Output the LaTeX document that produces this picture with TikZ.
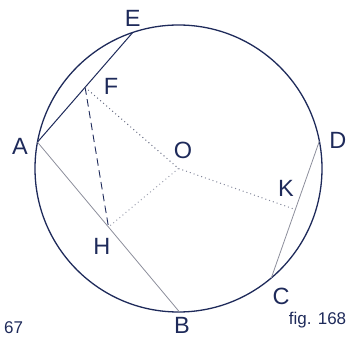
\documentclass[tikz,border=0pt]{standalone}
\usepackage{fontspec}
\setmainfont{Liberation Sans}
\usetikzlibrary{calc}
\definecolor{ink}{RGB}{30,42,90}
\definecolor{chordgray}{RGB}{140,142,155}
\definecolor{dotgray}{RGB}{100,105,128}

\begin{document}
\begin{tikzpicture}[x=1pt, y=1pt,
  pt label/.style={text=ink, inner sep=0pt, font=\fontsize{23.5}{25}\selectfont},
  fig label/.style={text=ink, inner sep=0pt, font=\fontsize{17}{19}\selectfont},
  thin chord/.style={chordgray, line width=0.8pt},
  dotted seg/.style={dotgray, line width=1pt, dash pattern=on 1pt off 3pt}]
  \useasboundingbox (0,0) rectangle (356,337);

  % circle and points on it
  \coordinate (O) at (178.5,168.5);
  \draw[ink, line width=1.3pt] (O) circle[radius=143.5];
  \coordinate (A) at ($(O)+(169.4:143.5)$);
  \coordinate (E) at ($(O)+(108.6:143.5)$);
  \coordinate (B) at ($(O)+(-89.6:143.5)$);
  \coordinate (C) at ($(O)+(-49.7:143.5)$);
  \coordinate (D) at ($(O)+(11:143.5)$);

  % midpoints of the chords
  \coordinate (F) at ($(A)!0.5!(E)$);
  \coordinate (H) at ($(A)!0.5!(B)$);
  \coordinate (K) at ($(C)!0.5!(D)$);

  % chords
  \draw[ink, line width=1pt] (A) -- (E);
  \draw[thin chord] (A) -- (B);
  \draw[thin chord] (C) -- (D);

  \draw[ink, line width=0.9pt, dash pattern=on 7.5pt off 4.5pt] (F) -- (H);
  \draw[dotted seg] (F) -- (O);
  \draw[dotted seg, dotgray!60] (O) -- (H);
  \draw[dotted seg, dotgray!80] (O) -- (K);

  % labels
  \node[pt label] (labE) at ($(E)+(0,14.5)$) {E};
  \node[pt label] (labF) at ($(F)+(26,1)$) {F};
  \node[pt label] (labA) at ($(A)+(-17.5,-4)$) {A};
  \node[pt label] (labO) at ($(O)+(4.5,18.5)$) {O};
  \node[pt label] (labD) at ($(D)+(18.6,1)$) {D};
  \node[pt label] (labK) at ($(K)+(-9.4,21.5)$) {K};
  \node[pt label] (labH) at ($(H)+(-6.5,-19)$) {H};
  \node[pt label] (labC) at ($(C)+(9.7,-18)$) {C};
  \node[pt label] (labB) at ($(B)+(2.5,-13)$) {B};

  \node[fig label, anchor=base] (figno) at (317.5,12) {fig. 168};
  \node[fig label, anchor=base west] (prevfig) at (4,3) {67};
\end{tikzpicture}
\end{document}
